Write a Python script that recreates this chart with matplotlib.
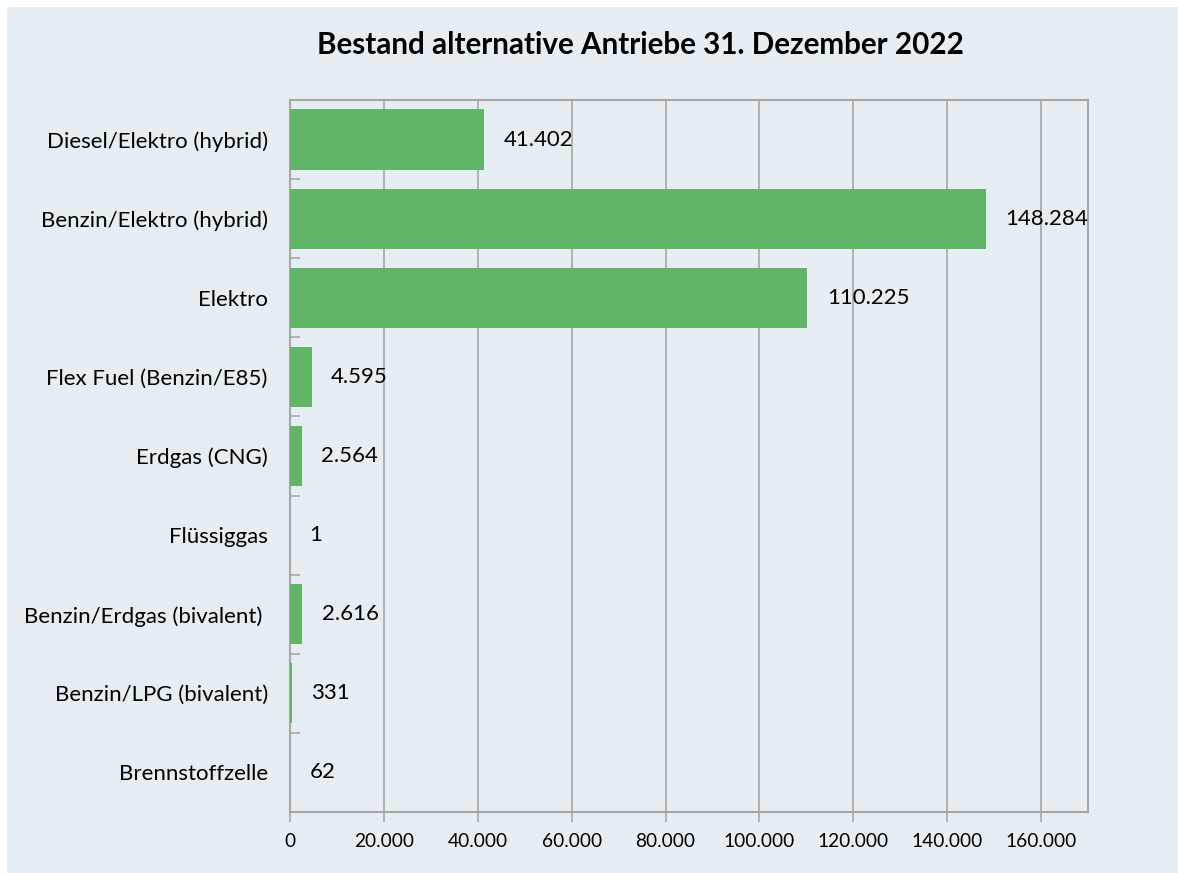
import matplotlib.pyplot as plt
from matplotlib.patches import Rectangle
from matplotlib.ticker import FuncFormatter
import numpy as np

# Daten
kategorien = ["Diesel/Elektro (hybrid)", "Benzin/Elektro (hybrid)", "Elektro",
              "Flex Fuel (Benzin/E85)", "Erdgas (CNG)", "Flüssiggas",
              "Benzin/Erdgas (bivalent) ", "Benzin/LPG (bivalent)", "Brennstoffzelle"]
bestand = [41402, 148284, 110225, 4595, 2564, 1, 2616, 331, 62]

titel = "Bestand alternative Antriebe 31. Dezember 2022"

bg = "#E6EEF4"
gruen = "#61B566"
grau = "#A6A6A6"

plt.rcParams['font.family'] = ['Lato', 'DejaVu Sans']

W, H = 1178, 873
fig = plt.figure(figsize=(W / 100, H / 100), dpi=100)
fig.patch.set_facecolor("white")
fig.patches.append(Rectangle((7 / W, 0), 1, 1 - 7 / H, transform=fig.transFigure,
                             facecolor=bg, edgecolor="none", zorder=-10))

ax = fig.add_axes([290 / W, 1 - 812 / H, (1088 - 290) / W, (812 - 100) / H])
ax.set_facecolor(bg)

y = np.arange(len(kategorien))
ax.barh(y, bestand, height=0.76, color=gruen, zorder=3)
ax.set_ylim(len(kategorien) - 0.5, -0.5)
ax.set_xlim(0, 170000)

ax.set_xticks(np.arange(0, 160001, 20000))
ax.xaxis.set_major_formatter(FuncFormatter(lambda v, p: f"{int(v):,}".replace(",", ".")))
ax.grid(axis="x", color=grau, linewidth=1.2, zorder=0)

ax.set_yticks(y)
ax.set_yticklabels(kategorien)
ax.set_yticks(np.arange(0.5, len(kategorien) - 0.5, 1), minor=True)
ax.tick_params(axis="y", which="major", length=0, pad=16, labelsize=16)
ax.tick_params(axis="y", which="minor", direction="in", length=7, color=grau, width=1.2)
ax.tick_params(axis="x", length=7, color=grau, width=1.2, pad=8, labelsize=13.8)

for s in ax.spines.values():
    s.set_color(grau)
    s.set_linewidth(1.5)

for i, v in enumerate(bestand):
    txt = f"{v:,}".replace(",", ".")
    ax.annotate(txt, (v, i), xytext=(14, 0), textcoords="offset points",
                va="center", ha="left", fontsize=16)

fig.text(640 / W, 1 - 45 / H, titel, ha="center", va="center",
         fontsize=21.3, fontweight="bold")

fig.savefig("out.png", dpi=100)
